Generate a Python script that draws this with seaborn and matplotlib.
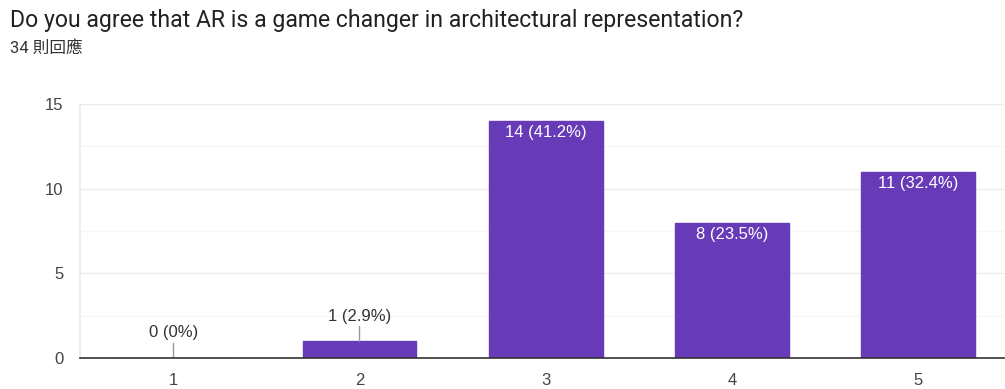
import matplotlib
matplotlib.use("Agg")
import matplotlib.pyplot as plt
import seaborn as sns
import pandas as pd

categories = ["1", "2", "3", "4", "5"]
counts = [0, 1, 14, 8, 11]
percents = ["0%", "2.9%", "41.2%", "23.5%", "32.4%"]
title = "Do you agree that AR is a game changer in architectural representation?"
subtitle = "34 則回應"
yticks = [0, 5, 10, 15]

sns.set_theme(style="white")
plt.rcParams['font.family'] = ['Liberation Sans', 'Noto Sans CJK TC', 'DejaVu Sans']

df = pd.DataFrame({"cat": categories, "count": counts})

fig = plt.figure(figsize=(10.05, 3.89), dpi=100)
ax = fig.add_axes([80/1005, 1-358/389, (1004-80)/1005, (358-104)/389])

sns.barplot(data=df, x="cat", y="count", color="#673AB7", saturation=1,
            width=0.61, ax=ax, edgecolor="#673AB7")

ax.set_ylim(0, 15)
ax.set_xlim(-0.5, 4.46)
ax.set_yticks(yticks)
ax.set_yticks([2.5, 7.5, 12.5], minor=True)
ax.grid(axis="y", which="major", color="#ebebeb", lw=1)
ax.grid(axis="y", which="minor", color="#f5f5f5", lw=1)
ax.set_axisbelow(True)
for s in ["top", "right"]:
    ax.spines[s].set_visible(False)
ax.spines["left"].set_color("#ebebeb")
ax.spines["bottom"].set_color("#333333")
ax.spines["bottom"].set_linewidth(1.2)
ax.set_xlabel("")
ax.set_ylabel("")
ax.tick_params(axis="both", which="both", length=0, labelsize=12, colors="#444444")
ax.tick_params(axis="y", pad=12)
ax.tick_params(axis="x", pad=11)

px = 15 / (358 - 104)  # data units per pixel
for i, (c, p) in enumerate(zip(counts, percents)):
    label = f"{c} ({p})"
    if c >= 3:
        ax.text(i, c - 12 * px, label, ha="center", va="center", color="white", fontsize=12)
    else:
        ax.plot([i, i], [c, c + 15 * px], color="#999999", lw=1)
        ax.text(i, c + 25 * px, label, ha="center", va="center", color="#333333", fontsize=12)

fig.text(10/1005, 1-21/389, title, fontsize=16.6, color="#202124", va="center", ha="left",
         family=['Roboto', 'DejaVu Sans'])
fig.text(10/1005, 1-48/389, subtitle, fontsize=12, color="#333333", va="center", ha="left",
         family=['Roboto', 'Noto Sans CJK TC', 'DejaVu Sans'])

fig.savefig("out.png", dpi=100)
